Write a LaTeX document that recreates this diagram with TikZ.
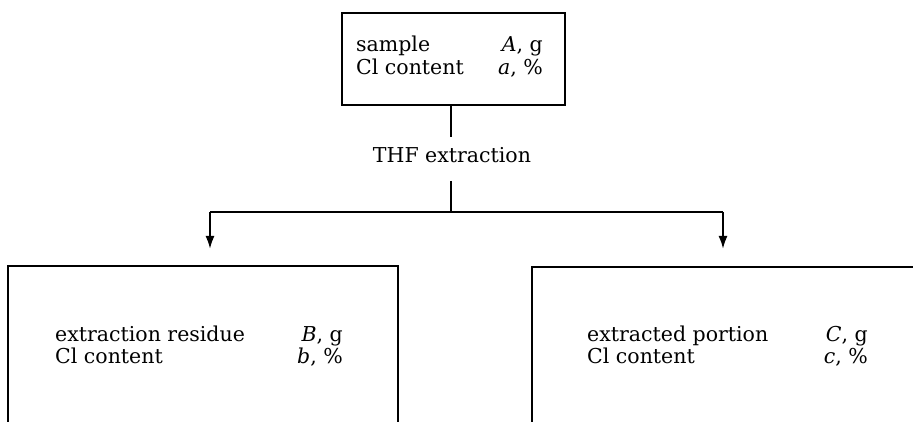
\documentclass[tikz,border=0pt]{standalone}
\usepackage{fontspec}
\setmainfont{DejaVu Serif}
\usetikzlibrary{arrows.meta}
\begin{document}
\begin{tikzpicture}[x=1pt,y=-1pt,
  boxst/.style={draw,line width=2pt,inner sep=0pt},
  lbl/.style={inner sep=0pt,font=\fontsize{20.5}{24}\selectfont},
  conn/.style={line width=2pt},
  arr/.style={line width=2pt,-{Latex[length=13pt,width=9pt]}}]
\clip (0,0) rectangle (913,422);
\fill[white] (0,0) rectangle (913,422);
% boxes
\node[boxst,minimum width=223pt,minimum height=92pt] (top) at (453.5,59) {};
\node[boxst,minimum width=390pt,minimum height=180pt] (left) at (203,356) {};
\node[boxst,minimum width=400pt,minimum height=180pt] (right) at (732,357) {};
% top text
\node[lbl,anchor=base west] (t1) at (356,52) {sample};
\node[lbl,anchor=base west] (t2) at (356,75) {Cl content};
\node[lbl,anchor=base east] (t3) at (543,52) {\textit{A}, g};
\node[lbl,anchor=base east] (t4) at (543,75) {\textit{a}, \%};
% left text
\node[lbl,anchor=base west] (l1) at (55,341) {extraction residue};
\node[lbl,anchor=base west] (l2) at (55,363) {Cl content};
\node[lbl,anchor=base east] (l3) at (343,341) {\textit{B}, g};
\node[lbl,anchor=base east] (l4) at (343,363) {\textit{b}, \%};
% right text
\node[lbl,anchor=base west] (r1) at (587,341) {extracted portion};
\node[lbl,anchor=base west] (r2) at (587,363) {Cl content};
\node[lbl,anchor=base east] (r3) at (868,341) {\textit{C}, g};
\node[lbl,anchor=base east] (r4) at (868,363) {\textit{c}, \%};
% THF extraction
\node[lbl,anchor=base] (thf) at (452,163) {THF extraction};
% connectors
\coordinate (a1) at (451,137);
\coordinate (a2) at (451,181);
\coordinate (j) at (451,212);
\coordinate (lc) at (210,212);
\coordinate (rc) at (723,212);
\coordinate (lt) at (210,249);
\coordinate (rt) at (723,249);
\draw[conn] (top.south -| a1) -- (a1);
\draw[conn] (a2) -- (j);
\draw[conn] (lc) -- (rc);
\draw[arr] (lc) -- (lt);
\draw[arr] (rc) -- (rt);
\end{tikzpicture}
\end{document}
